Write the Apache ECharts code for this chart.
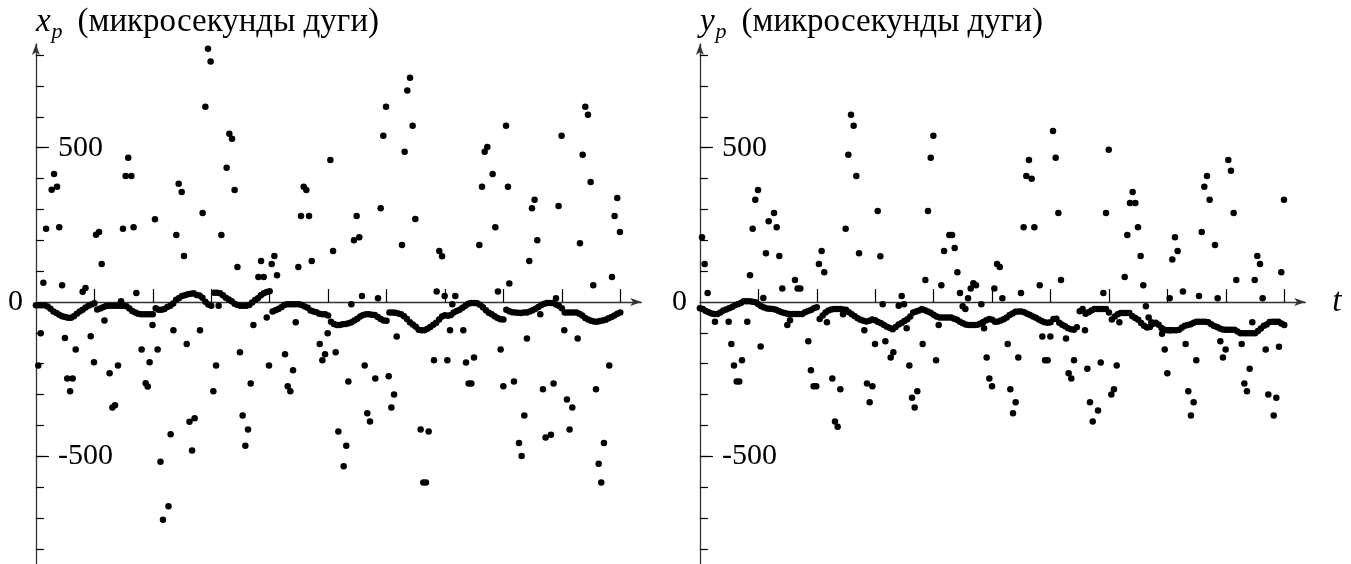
<!DOCTYPE html>
<html>
<head>
<meta charset="utf-8">
<script src="https://cdn.jsdelivr.net/npm/echarts@6/dist/echarts.min.js"></script>
<style>
  html, body { margin: 0; padding: 0; background: #fff; }
  #chart { width: 1351px; height: 564px; }
</style>
</head>
<body>
<div id="chart"></div>
<script>
// smooth chain of points, sampled every chainStep along t
var chainStep = 0.05;

var xpChain = [
  -11, -11, -11, -11, -15, -22, -31, -36, -41, -46,
  -49, -51, -51, -46, -38, -31, -25, -18, -12, -8,
  -4, -24, -21, -17, -13, -12, -12, -12, -12, -12,
  -12, -14, -21, -29, -34, -38, -40, -40, -40, -40,
  -40, -20, -25, -25, -23, -16, -12, -5, 7, 13,
  19, 22, 25, 27, 28, 23, 21, 14, 1, -8,
  -12, 30, 30, 28, 22, 14, 8, 2, -6, -10,
  -12, -12, -12, -10, -2, 6, 12, 22, 28, 32,
  35, -31, -27, -23, -17, -10, -7, -7, -7, -7,
  -7, -10, -15, -19, -28, -31, -33, -38, -40, -40,
  -44, -64, -71, -75, -75, -72, -71, -69, -66, -60,
  -54, -47, -42, -40, -40, -41, -42, -49, -55, -60,
  -61, -34, -34, -35, -37, -40, -46, -55, -66, -73,
  -80, -90, -92, -92, -87, -81, -74, -67, -57, -47,
  -43, -45, -42, -34, -29, -25, -19, -12, -6, -3,
  -3, -4, -9, -17, -27, -35, -40, -46, -52, -56,
  -57, -25, -30, -33, -34, -35, -36, -34, -34, -31,
  -27, -22, -16, -10, -6, -3, -3, -3, -8, -12,
  -20, -34, -34, -34, -34, -34, -38, -44, -52, -57,
  -61, -63, -64, -62, -60, -58, -53, -49, -44, -38,
  -34
];

var ypChain = [
  -20, -23, -29, -33, -37, -39, -39, -34, -28, -24,
  -20, -16, -11, -7, -3, 2, 2, 2, 1, -1,
  -7, -14, -18, -21, -22, -23, -25, -29, -33, -36,
  -38, -39, -39, -39, -39, -39, -33, -29, -26, -20,
  -17, -55, -44, -34, -28, -24, -23, -23, -23, -24,
  -25, -33, -40, -46, -53, -58, -61, -63, -61, -57,
  -59, -65, -69, -75, -80, -84, -88, -81, -73, -68,
  -62, -56, -47, -34, -31, -28, -23, -27, -31, -35,
  -41, -47, -50, -50, -50, -50, -50, -54, -58, -64,
  -69, -73, -75, -75, -75, -74, -70, -65, -59, -55,
  -58, -64, -63, -60, -56, -50, -42, -37, -32, -31,
  -31, -33, -38, -42, -47, -51, -57, -62, -66, -67,
  -66, -55, -54, -67, -74, -79, -85, -88, -90, -82,
  -30, -23, -38, -33, -28, -23, -23, -23, -23, -23,
  -34, -57, -47, -40, -36, -36, -36, -36, -46, -52,
  -58, -68, -77, -83, -81, -71, -67, -74, -84, -90,
  -92, -92, -92, -92, -90, -83, -77, -75, -72, -67,
  -64, -64, -64, -64, -66, -72, -78, -81, -86, -89,
  -90, -90, -90, -90, -96, -101, -101, -101, -101, -101,
  -101, -94, -86, -77, -73, -65, -64, -64, -64, -70,
  -75
];

// scattered points [t, value]
var xpDots = [
  [0.041,-206],[0.082,-101],[0.128,62],[0.174,237],[0.270,364],[0.311,415],[0.362,373],[0.399,242],
  [0.448,54],[0.497,-117],[0.536,-248],[0.585,-289],[0.629,-248],[0.681,-154],[0.800,33],[0.849,45],
  [0.938,-111],[0.994,-195],[1.029,218],[1.081,227],[1.126,123],[1.173,-60],[1.261,-231],[1.309,-342],
  [1.353,-335],[1.405,-206],[1.457,2],[1.490,237],[1.535,408],[1.580,467],[1.633,408],[1.672,242],
  [1.719,29],[1.809,-154],[1.878,-263],[1.913,-274],[1.946,-195],[1.995,-75],[2.038,268],[2.083,-154],
  [2.132,-518],[2.175,-706],[2.269,-662],[2.306,-429],[2.353,-92],[2.403,217],[2.443,383],[2.495,356],
  [2.534,149],[2.581,-136],[2.628,-388],[2.672,-481],[2.716,-377],[2.808,-92],[2.853,288],[2.900,633],
  [2.945,821],[2.990,779],[3.037,-289],[3.083,-206],[3.127,-12],[3.174,217],[3.264,435],[3.310,545],
  [3.356,529],[3.401,363],[3.449,113],[3.492,-163],[3.538,-368],[3.584,-466],[3.630,-413],[3.676,-264],
  [3.722,-75],[3.807,81],[3.853,133],[3.898,81],[3.950,-50],[3.989,-206],[4.035,123],[4.081,149],
  [4.126,87],[4.263,-169],[4.309,-273],[4.354,-289],[4.400,-221],[4.446,-66],[4.491,113],[4.537,279],
  [4.582,373],[4.628,363],[4.674,279],[4.720,133],[4.857,-136],[4.902,-189],[4.948,-169],[4.993,-101],
  [5.039,460],[5.085,165],[5.130,-163],[5.176,-420],[5.267,-532],[5.311,-466],[5.347,-258],[5.398,-7],
  [5.443,200],[5.489,279],[5.534,210],[5.580,19],[5.626,-206],[5.671,-361],[5.717,-387],[5.808,-248],
  [5.854,12],[5.900,304],[5.945,539],[5.992,633],[6.037,-241],[6.083,-342],[6.129,-300],[6.174,-112],
  [6.265,185],[6.310,487],[6.356,685],[6.402,727],[6.447,571],[6.493,269],[6.584,-413],[6.630,-585],
  [6.675,-585],[6.721,-420],[6.812,-189],[6.858,34],[6.903,165],[6.950,148],[6.995,19],[7.041,-189],
  [7.087,-92],[7.126,-7],[7.177,19],[7.314,-92],[7.360,-196],[7.406,-264],[7.451,-264],[7.497,-180],
  [7.588,185],[7.634,373],[7.679,487],[7.725,502],[7.816,415],[7.862,242],[7.907,34],[7.953,-154],
  [7.999,-273],[8.045,571],[8.078,373],[8.101,60],[8.181,-258],[8.267,-457],[8.312,-499],[8.358,-368],
  [8.403,-118],[8.443,133],[8.489,304],[8.534,331],[8.580,200],[8.631,-40],[8.677,-283],[8.723,-439],
  [8.814,-430],[8.859,-264],[8.900,12],[8.944,311],[8.996,539],[9.042,-92],[9.087,-316],[9.133,-413],
  [9.179,-342],[9.271,-118],[9.310,190],[9.356,477],[9.402,633],[9.447,607],[9.493,389],[9.538,54],
  [9.584,-283],[9.630,-524],[9.675,-585],[9.721,-457],[9.812,-206],[9.858,81],[9.903,279],[9.949,337],
  [9.994,227]
];

var ypDots = [
  [0.036,210],[0.081,123],[0.132,29],[0.258,-64],[0.492,-64],[0.538,-136],[0.583,-206],[0.629,-258],
  [0.674,-258],[0.720,-189],[0.811,-64],[0.857,87],[0.903,237],[0.948,331],[0.994,363],[1.039,-144],
  [1.085,13],[1.130,158],[1.177,262],[1.268,288],[1.314,242],[1.359,149],[1.410,44],[1.496,-75],
  [1.542,-59],[1.627,71],[1.672,44],[1.718,44],[1.855,-127],[1.900,-221],[1.946,-273],[1.991,-273],
  [2.037,123],[2.083,165],[2.128,96],[2.174,-66],[2.266,-248],[2.312,-387],[2.357,-404],[2.403,-283],
  [2.449,-40],[2.494,237],[2.540,477],[2.586,607],[2.631,571],[2.677,408],[2.723,158],[2.814,-92],
  [2.859,-264],[2.905,-325],[2.952,-273],[2.997,-136],[3.043,295],[3.088,148],[3.128,-7],[3.174,-127],
  [3.265,-180],[3.310,-163],[3.402,-12],[3.453,19],[3.493,-7],[3.538,-85],[3.584,-206],[3.630,-310],
  [3.675,-342],[3.720,-289],[3.812,-136],[3.858,71],[3.903,295],[3.950,467],[3.995,539],[4.041,-189],
  [4.086,-75],[4.132,54],[4.178,165],[4.269,217],[4.315,217],[4.360,175],[4.406,96],[4.451,29],
  [4.497,-14],[4.543,-23],[4.588,12],[4.634,44],[4.680,61],[4.725,54],[4.816,-7],[4.862,-85],
  [4.907,-180],[4.953,-248],[4.999,-273],[5.039,44],[5.085,123],[5.131,113],[5.176,12],[5.267,-136],
  [5.312,-283],[5.358,-361],[5.403,-325],[5.449,-180],[5.495,29],[5.540,242],[5.586,408],[5.631,460],
  [5.677,399],[5.723,242],[5.815,54],[5.860,-112],[5.906,-189],[5.951,-189],[5.997,-112],[6.043,554],
  [6.088,467],[6.134,288],[6.179,71],[6.265,-118],[6.310,-231],[6.356,-248],[6.402,-189],[6.590,-92],
  [6.630,-216],[6.675,-325],[6.722,-387],[6.813,-352],[6.859,-196],[6.904,29],[6.950,288],[6.996,493],
  [7.041,-300],[7.086,-283],[7.132,-206],[7.178,-66],[7.269,81],[7.314,217],[7.360,321],[7.405,356],
  [7.451,321],[7.497,242],[7.542,149],[7.588,54],[7.632,-14],[7.679,-50],[7.726,-66],[7.908,-103],
  [7.954,-154],[7.999,-231],[8.044,-92],[8.039,12],[8.084,138],[8.130,210],[8.175,165],[8.266,34],
  [8.312,-136],[8.358,-289],[8.403,-368],[8.449,-325],[8.495,-189],[8.541,19],[8.587,227],[8.632,373],
  [8.678,408],[8.723,331],[8.815,185],[8.860,12],[8.906,-127],[8.951,-180],[8.997,-154],[9.043,460],
  [9.088,425],[9.134,288],[9.179,71],[9.271,-136],[9.317,-264],[9.362,-289],[9.408,-216],[9.453,-66],
  [9.494,71],[9.539,149],[9.585,123],[9.630,12],[9.682,-154],[9.727,-300],[9.819,-368],[9.864,-310],
  [9.910,-145],[9.949,96],[9.995,331]
];

var tTicks = [1, 2, 3, 4, 5, 6, 7, 8, 9, 10];
var yTicks = [-800, -700, -600, -500, -400, -300, -200, -100, 100, 200, 300, 400, 500, 600, 700, 800];
var yLabels = [-500, 500];
var yMajor = [-500, 500];
var yZero = [0];

var serif = "'Liberation Serif', 'DejaVu Serif', serif";
var lineCol = '#333';

function chainData(arr) {
  return arr.map(function (v, i) { return [i * chainStep, v]; });
}

var nameRich = {
  a: { fontFamily: serif, fontStyle: 'italic', fontSize: 33, lineHeight: 34, verticalAlign: 'middle', color: '#000' },
  b: { fontFamily: serif, fontStyle: 'italic', fontSize: 22, lineHeight: 22, padding: [20, 0, 0, 1], verticalAlign: 'middle', color: '#000' },
  c: { fontFamily: serif, fontSize: 33, lineHeight: 34, padding: [0, 0, 0, 15], verticalAlign: 'middle', color: '#000' }
};

function makeX(g, name) {
  return {
    gridIndex: g, type: 'value', min: 0, max: 10.36,
    axisLine: { onZero: true, symbol: ['none', 'arrow'], symbolSize: [6, 11], lineStyle: { color: lineCol, width: 1.3 } },
    axisTick: { inside: true, length: 13, customValues: tTicks, lineStyle: { color: '#000', width: 1.2 } },
    axisLabel: { show: false },
    splitLine: { show: false },
    name: name, nameLocation: 'end', nameGap: 27, nameMoveOverlap: false,
    nameTextStyle: { fontFamily: serif, fontStyle: 'italic', fontSize: 33, color: '#000', verticalAlign: 'middle' }
  };
}

function makeY(g, letter) {
  return {
    gridIndex: g, type: 'value', min: -900, max: 836, position: 'left',
    axisLine: { onZero: true, symbol: ['none', 'arrow'], symbolSize: [6, 11], lineStyle: { color: lineCol, width: 1.3 } },
    axisTick: { inside: true, length: 8, customValues: yTicks, lineStyle: { color: '#000', width: 1.2 } },
    axisLabel: { inside: true, margin: 22, customValues: yLabels, fontFamily: serif, fontSize: 30, color: '#000' },
    splitLine: { show: false },
    name: '{a|' + letter + '}{b|p}{c|(микросекунды дуги)}',
    nameLocation: 'end', nameGap: 22, nameMoveOverlap: false,
    nameTextStyle: { align: 'left', verticalAlign: 'middle', rich: nameRich }
  };
}

// second y axis per panel: longer ticks at ±500 and the outside "0"
function makeY0(g) {
  return {
    gridIndex: g, type: 'value', min: -900, max: 836, position: 'left',
    axisLine: { show: false },
    axisTick: { inside: true, length: 13, customValues: yMajor, lineStyle: { color: '#000', width: 1.2 } },
    axisLabel: { margin: 13, customValues: yZero, fontFamily: serif, fontSize: 30, color: '#000' },
    splitLine: { show: false }
  };
}

function dots(xi, yi, data) {
  return {
    type: 'scatter', xAxisIndex: xi, yAxisIndex: yi, data: data,
    symbol: 'circle', symbolSize: 6.5, itemStyle: { color: '#000', opacity: 1 }, silent: true
  };
}

var chart = echarts.init(document.getElementById('chart'), null, { renderer: 'canvas' });
chart.setOption({
  animation: false,
  backgroundColor: '#fff',
  grid: [
    { left: 35.9, top: 44, width: 605.4, height: 535.7, outerBoundsMode: 'none' },
    { left: 699.9, top: 44, width: 605.4, height: 535.7, outerBoundsMode: 'none' }
  ],
  xAxis: [makeX(0, ''), makeX(1, 't')],
  yAxis: [makeY(0, 'x'), makeY0(0), makeY(1, 'y'), makeY0(1)],
  series: [
    dots(0, 0, chainData(xpChain)),
    dots(0, 0, xpDots),
    dots(1, 2, chainData(ypChain)),
    dots(1, 2, ypDots)
  ]
});
</script>
</body>
</html>
